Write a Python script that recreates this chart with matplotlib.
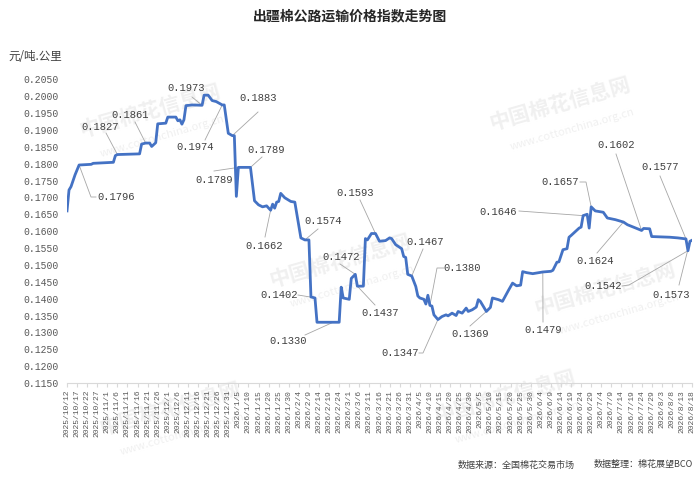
import numpy as np
import pandas as pd
import matplotlib
matplotlib.use("Agg")
import matplotlib.pyplot as plt

plt.rcParams['font.family'] = ['Noto Sans CJK SC', 'DejaVu Sans']

# 出疆棉公路运输价格指数 (元/吨.公里), day offsets from 2025/10/12
start_date = pd.Timestamp('2025-10-12')
end_date = pd.Timestamp('2026-08-18')

day_offsets = [0, 1, 2, 4, 6, 12, 13, 23, 24, 25, 36, 37, 39, 41, 42, 44, 45, 49, 50, 54,
               55, 56, 57, 58, 59, 62, 67, 68, 70, 72, 74, 77, 78, 80, 82, 83, 84, 85, 91,
               93, 95, 97, 99, 101, 102, 103, 104, 105, 106, 108, 111, 113, 116, 118, 120,
               121, 123, 124, 135, 136, 137, 140, 141, 143, 144, 147, 148, 149, 151, 153,
               155, 158, 160, 161, 163, 166, 167, 168, 169, 171, 173, 174, 175, 177, 178,
               179, 180, 181, 182, 184, 186, 188, 189, 191, 193, 194, 196, 198, 199, 201,
               203, 204, 205, 207, 208, 210, 211, 214, 216, 218, 219, 221, 223, 225, 226,
               228, 231, 236, 240, 241, 243, 244, 246, 248, 249, 250, 252, 254, 255, 256,
               257, 258, 259, 260, 262, 266, 268, 272, 276, 278, 281, 283, 285, 286, 289,
               290, 299, 303, 307, 308, 309, 310]

index_values = [0.1660, 0.1722, 0.1732, 0.1767, 0.1796, 0.1798, 0.1801, 0.1804, 0.1824, 0.1827,
                0.1829, 0.1858, 0.1861, 0.1861, 0.1851, 0.1862, 0.1918, 0.1920, 0.1938, 0.1938,
                0.1927, 0.1930, 0.1917, 0.1930, 0.1972, 0.1974, 0.1973, 0.2003, 0.2003, 0.1987,
                0.1984, 0.1974, 0.1974, 0.1890, 0.1883, 0.1883, 0.1703, 0.1789, 0.1789,
                0.1690, 0.1678, 0.1672, 0.1675, 0.1662, 0.1680, 0.1668, 0.1686, 0.1688, 0.1712,
                0.1699, 0.1688, 0.1686, 0.1580, 0.1574, 0.1574,
                0.1405, 0.1402, 0.1330, 0.1330, 0.1434, 0.1402, 0.1398, 0.1460, 0.1472, 0.1437,
                0.1437, 0.1578, 0.1574, 0.1593, 0.1593,
                0.1570, 0.1572, 0.1580, 0.1578, 0.1560, 0.1548, 0.1525, 0.1522, 0.1472, 0.1467,
                0.1436, 0.1408, 0.1402, 0.1398, 0.1384,
                0.1410, 0.1380, 0.1378, 0.1352, 0.1338, 0.1347, 0.1352, 0.1349, 0.1357, 0.1350,
                0.1362, 0.1357, 0.1372, 0.1362, 0.1367,
                0.1375, 0.1397, 0.1392, 0.1372, 0.1362, 0.1374, 0.1402, 0.1397, 0.1392, 0.1414,
                0.1425, 0.1446, 0.1438, 0.1440, 0.1480,
                0.1477, 0.1474, 0.1479, 0.1481, 0.1484, 0.1508, 0.1509, 0.1545, 0.1548, 0.1582,
                0.1587, 0.1598, 0.1609, 0.1612, 0.1646,
                0.1648, 0.1650, 0.1609, 0.1672, 0.1660, 0.1656, 0.1639, 0.1634, 0.1627, 0.1619,
                0.1612, 0.1607, 0.1602, 0.1608, 0.1607,
                0.1584, 0.1582, 0.1580, 0.1577, 0.1542, 0.1570, 0.1573]

# data labels: text, day of the labelled point
label_texts = ['0.1796', '0.1827', '0.1861', '0.1973', '0.1974', '0.1883', '0.1789', '0.1789',
               '0.1662', '0.1574', '0.1402', '0.1330', '0.1472', '0.1437', '0.1593', '0.1467',
               '0.1380', '0.1347', '0.1369', '0.1479', '0.1646', '0.1657', '0.1624', '0.1602',
               '0.1577', '0.1542', '0.1573']
label_days = [6, 25, 39, 67, 77, 82, 91, 85, 101, 118, 122, 132, 143, 144, 153, 171,
              180, 184, 208, 236, 256, 260, 276, 285, 307, 308, 309]

y_min, y_max = 0.1150, 0.2050

# layout (pixels of a 700x480 figure)
W, H = 700, 480
AX_L, AX_R, AX_B, AX_T = 67, 692, 383, 79.3
# label text centre and leader bends, in pixels
label_text_px = [(116, 197), (100, 127), (130, 115), (186, 88), (195, 147), (258, 98),
                 (266, 150), (214, 180), (264, 246), (323, 221), (279, 295), (288, 341),
                 (341, 257), (380, 313), (355, 193), (425, 242), (462, 268), (400, 353),
                 (470, 334), (543, 330), (498, 212), (560, 182), (595, 261), (616, 145),
                 (660, 167), (603, 286), (671, 295)]
leader_px = [[(96, 197), (91, 197)], [(106, 133)], [(135, 122)], [(192, 97)], [(205, 140)],
             [(258, 112)], [(262, 157)], [(214, 171)], [(265, 237)], [(318, 229)],
             [(298, 295)], [(305, 335)], [(340, 264)], [(375, 305)], [(360, 200)],
             [(423, 249)], [(444, 268), (437, 268)], [(419, 353), (423, 353)], [(470, 326)],
             [(543, 322)], [(519, 211)], [(580, 182), (586, 182)], [(597, 253)], [(616, 154)],
             [(660, 176)], [(622, 286), (629, 285)], [(679, 285)]]

n_days = (end_date - start_date).days


def px_to_data(px, py):
    d = (px - AX_L) / (AX_R - AX_L) * n_days
    v = y_max - (py - AX_T) / (AX_B - AX_T) * (y_max - y_min)
    return d, v


fig = plt.figure(figsize=(7, 4.8), dpi=100)
ax = fig.add_axes([AX_L / W, 1 - AX_B / H, (AX_R - AX_L) / W, (AX_B - AX_T) / H])

# watermarks, drawn behind the line
wm_pos = [(150, 112), (560, 105), (340, 262), (605, 290), (170, 410), (505, 398)]
for wx, wy in wm_pos:
    ax.text(wx / W, 1 - wy / H, '中国棉花信息网', fontsize=15, fontweight='bold',
            color='#f0f0f0', rotation=16, ha='center', va='center', zorder=0,
            transform=fig.transFigure, clip_on=False)
    ax.text((wx + 12) / W, 1 - (wy + 24) / H, 'www.cottonchina.org.cn', fontsize=8,
            color='#f0f0f0', rotation=16, ha='center', va='center', zorder=0,
            transform=fig.transFigure, clip_on=False)

ax.plot(day_offsets, index_values, color='#4472C4', linewidth=2.0, zorder=3,
        solid_joinstyle='round')

mono = 'Liberation Mono'
for txt, day, (tx, ty), bends in zip(label_texts, label_days, label_text_px, leader_px):
    x0, y0 = px_to_data(tx, ty)
    ax.text(x0, y0, txt, fontsize=7.6, family=mono, color='#404040',
            ha='center', va='center', zorder=4)
    pts = [px_to_data(bx, by) for bx, by in bends]
    pts.append((day, float(np.interp(day, day_offsets, index_values))))
    ax.plot([p[0] for p in pts], [p[1] for p in pts], color='#a6a6a6', linewidth=0.6,
            zorder=2, clip_on=False)

ax.set_xlim(0, n_days)
ax.set_ylim(y_min, y_max)

tick_dates = pd.date_range(start_date, end_date, freq='5D')
tick_pos = [(d - start_date).days for d in tick_dates]
ax.set_xticks(tick_pos)
ax.set_xticklabels([f'{d.year}/{d.month}/{d.day}' for d in tick_dates], rotation=90,
                   family=mono, fontsize=5.8, color='#595959')
ax.tick_params(axis='x', direction='out', length=3, color='#d9d9d9', pad=2)

y_ticks = np.round(np.arange(y_min, y_max + 0.0001, 0.005), 4)
ax.set_yticks(y_ticks)
ax.set_yticklabels([f'{v:.4f}' for v in y_ticks], family=mono, fontsize=7, color='#595959')
ax.tick_params(axis='y', length=0, pad=6)

for s in ['top', 'right', 'left']:
    ax.spines[s].set_visible(False)
ax.spines['bottom'].set_color('#d9d9d9')

fig.text(350 / W, 1 - 16 / H, '出疆棉公路运输价格指数走势图', fontsize=10, fontweight='bold',
         ha='center', va='center', color='#262626')
fig.text(8 / W, 1 - 56 / H, '元/吨.公里', fontsize=8.3, ha='left', va='center', color='#404040')
fig.text(575 / W, 1 - 465 / H, '数据来源：全国棉花交易市场', fontsize=6.5, ha='right',
         va='center', color='#404040')
fig.text(693 / W, 1 - 465 / H, '数据整理：棉花展望BCO', fontsize=6.5, ha='right',
         va='center', color='#404040')

fig.savefig('out.png', dpi=100)
